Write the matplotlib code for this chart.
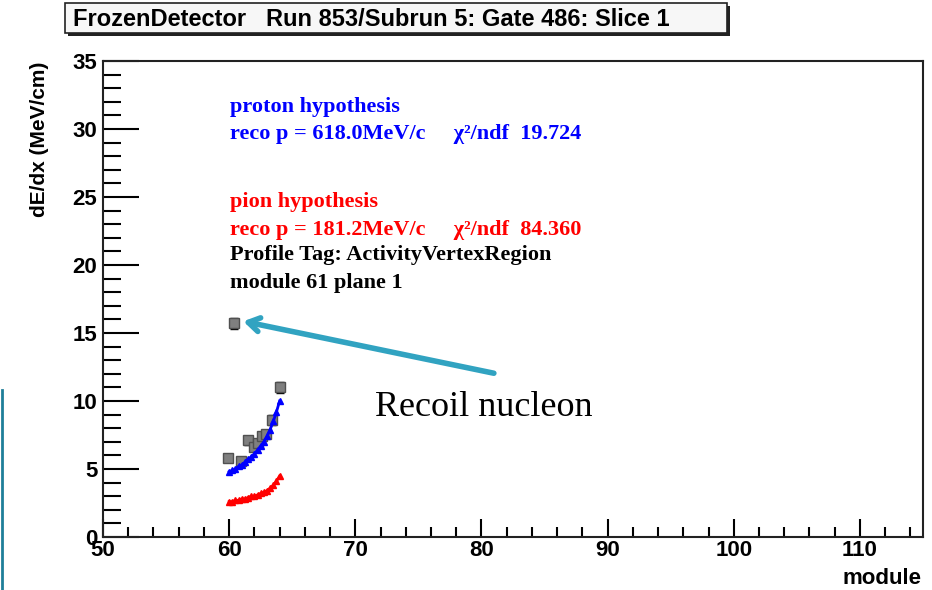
import matplotlib.pyplot as plt
from matplotlib.patches import Rectangle
from matplotlib.lines import Line2D
from matplotlib.ticker import MultipleLocator

# measured dE/dx (gray points)
data_x = [59.9, 60.4, 60.9, 61.5, 62.0, 62.3, 62.6, 62.9, 63.4, 64.0]
data_y = [5.8, 15.7, 5.6, 7.1, 6.6, 6.9, 7.4, 7.6, 8.6, 11.0]
data_err = [0.3, 0.4, 0.3, 0.3, 0.3, 0.3, 0.3, 0.3, 0.4, 0.4]

# fit hypotheses
fit_x = [60.0, 60.25, 60.5, 60.75, 61.0, 61.25, 61.5, 61.75, 62.0,
         62.25, 62.5, 62.75, 63.0, 63.25, 63.5, 63.75, 64.0]
proton_y = [4.8, 4.9, 5.0, 5.2, 5.3, 5.5, 5.7, 5.9, 6.1,
            6.4, 6.7, 7.0, 7.4, 7.9, 8.5, 9.2, 10.0]
pion_y = [2.6, 2.6, 2.7, 2.7, 2.8, 2.8, 2.9, 3.0, 3.0,
          3.1, 3.2, 3.3, 3.4, 3.6, 3.8, 4.1, 4.5]

title = "FrozenDetector   Run 853/Subrun 5: Gate 486: Slice 1"

W, H = 932, 590
fig = plt.figure(figsize=(W / 100, H / 100), dpi=100)
ax = fig.add_axes([103 / W, (H - 537) / H, 820 / W, 476 / H])

sans = 'Liberation Sans'
serif = 'Liberation Serif'

ax.plot(fit_x, proton_y, color='blue', marker='^', ms=4, lw=2, zorder=3)
ax.plot(fit_x, pion_y, color='red', marker='^', ms=4, lw=2, zorder=3)
ax.errorbar(data_x, data_y, yerr=data_err, fmt='s', color='#7f7f7f', mec='#505050',
            ms=7, ecolor='black', elinewidth=1, capsize=3, zorder=2)

ax.set_xlim(50, 115)
ax.set_ylim(0, 35)
ax.xaxis.set_major_locator(MultipleLocator(10))
ax.xaxis.set_minor_locator(MultipleLocator(2))
ax.yaxis.set_major_locator(MultipleLocator(5))
ax.yaxis.set_minor_locator(MultipleLocator(1))
ax.tick_params(axis='x', which='major', direction='in', length=13, width=1.5, pad=2)
ax.tick_params(axis='x', which='minor', direction='in', length=7, width=1.5)
ax.tick_params(axis='y', which='major', direction='in', length=26, width=1.5, pad=4)
ax.tick_params(axis='y', which='minor', direction='in', length=13, width=1.5)
for lab in ax.get_xticklabels() + ax.get_yticklabels():
    lab.set_fontfamily(sans)
    lab.set_fontweight('bold')
    lab.set_fontsize(16)
for s in ax.spines.values():
    s.set_linewidth(1.5)
    s.set_color('#222222')

fig.text(40 / W, 1 - 62 / H, 'dE/dx (MeV/cm)', rotation=90, ha='center', va='top',
         family=sans, weight='bold', fontsize=15)
fig.text(922 / W, 1 - 578 / H, 'module', ha='right', va='center',
         family=sans, weight='bold', fontsize=16)

# annotation block
lines = [
    (31.6, 'proton hypothesis', 'blue'),
    (29.6, 'reco p = 618.0MeV/c     \u03c7\u00b2/ndf  19.724', 'blue'),
    (24.6, 'pion hypothesis', 'red'),
    (22.6, 'reco p = 181.2MeV/c     \u03c7\u00b2/ndf  84.360', 'red'),
    (20.7, 'Profile Tag: ActivityVertexRegion', 'black'),
    (18.7, 'module 61 plane 1', 'black'),
]
for y, txt, c in lines:
    ax.text(60.05, y, txt, color=c, family=serif, weight='bold', fontsize=16, va='center')

ax.annotate('', xy=(60.9, 15.9), xytext=(81.2, 12.0),
            arrowprops=dict(arrowstyle='->,head_length=0.8,head_width=0.5',
                            color='#31a3c1', lw=4))
ax.text(80.2, 9.55, 'Recoil nucleon', family=serif, fontsize=26, ha='center', va='center')

# title box with shadow
fig.patches.append(Rectangle((68 / W, 1 - 36 / H), 662 / W, 30 / H, transform=fig.transFigure,
                             facecolor='#222222', edgecolor='none'))
fig.patches.append(Rectangle((65 / W, 1 - 33 / H), 662 / W, 30 / H, transform=fig.transFigure,
                             facecolor='#f7f7f7', edgecolor='#222222', lw=1.2))
fig.text(73 / W, 1 - 19 / H, title, ha='left', va='center', family=sans,
         weight='bold', fontsize=17)

fig.lines.append(Line2D([2 / W, 2 / W], [0, 1 - 390 / H], transform=fig.transFigure,
                        color='#1f7f99', lw=2))

fig.savefig('out.png', dpi=100)
